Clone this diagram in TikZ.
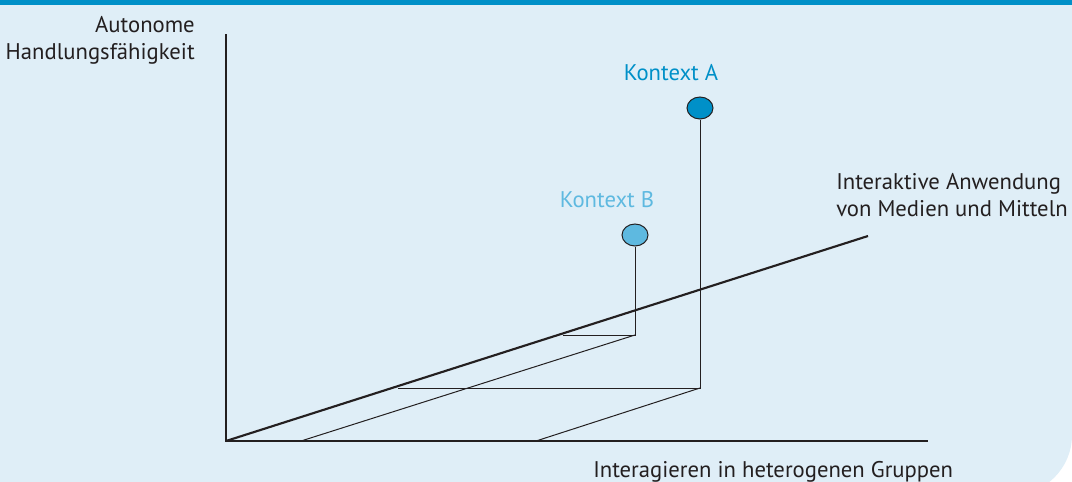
\documentclass[tikz,border=0pt]{standalone}
\usepackage{fontspec}
\setmainfont{PT Sans}
\usetikzlibrary{positioning,shapes.geometric}
\definecolor{kontextA}{HTML}{0090C8}
\definecolor{kontextB}{HTML}{5EB9E0}
\definecolor{hinter}{HTML}{DFEEF7}
\definecolor{achse}{HTML}{231F20}

\begin{document}
\begin{tikzpicture}[x=0.75pt,y=-0.75pt,
  achsline/.style={draw=achse,line width=1.6pt},
  hilfline/.style={draw=achse,line width=0.75pt},
  punkt/.style={ellipse,draw=achse,line width=0.75pt,minimum width=19.5pt,minimum height=16.5pt,inner sep=0pt},
  lab/.style={font=\fontsize{17}{20.5}\selectfont,text=achse,inner sep=0pt}]
\useasboundingbox (0,0) rectangle (1072,482);
\clip (0,0) rectangle (1072,482);
% Hintergrund
\fill[hinter] (0,0) -- (1072,0) -- (1072,435) arc[start angle=0,end angle=90,radius=60] -- (0,495) -- cycle;
\fill[kontextA] (0,0) rectangle (1072,5);

% Achsen
\coordinate (O) at (226,441);
\coordinate (zEnd) at (226,34);
\coordinate (xEnd) at (928,441);
\coordinate (yEnd) at (868,236);
\draw[achsline] (zEnd) -- (O) -- (xEnd);
\draw[achsline] (O) -- (yEnd);

\node[lab,align=right,anchor=north east] (lZ) at (195,16) {Autonome\\Handlungsfähigkeit};
\node[lab,align=left,anchor=north west] (lY) at (836,173) {Interaktive Anwendung\\von Medien und Mitteln};
\node[lab,anchor=base west] (lX) at (593,477) {Interagieren in heterogenen Gruppen};

% Kontext A
\node[punkt,fill=kontextA] (pA) at (700,108) {};
\node[lab,text=kontextA] (lA) at (671,73) {Kontext A};
\coordinate (fA) at (700,388);
\coordinate (fAy) at (398,388);
\coordinate (fAx) at (536,441);
\draw[hilfline] (pA) -- (fA) -- (fAy);
\draw[hilfline] (fA) -- (fAx);

% Kontext B
\node[punkt,fill=kontextB] (pB) at (635,235) {};
\node[lab,text=kontextB] (lB) at (607,200) {Kontext B};
\coordinate (fB) at (635,335);
\coordinate (fBy) at (563,335);
\coordinate (fBx) at (301,441);
\draw[hilfline] (pB) -- (fB) -- (fBy);
\draw[hilfline] (fB) -- (fBx);

\end{tikzpicture}
\end{document}
